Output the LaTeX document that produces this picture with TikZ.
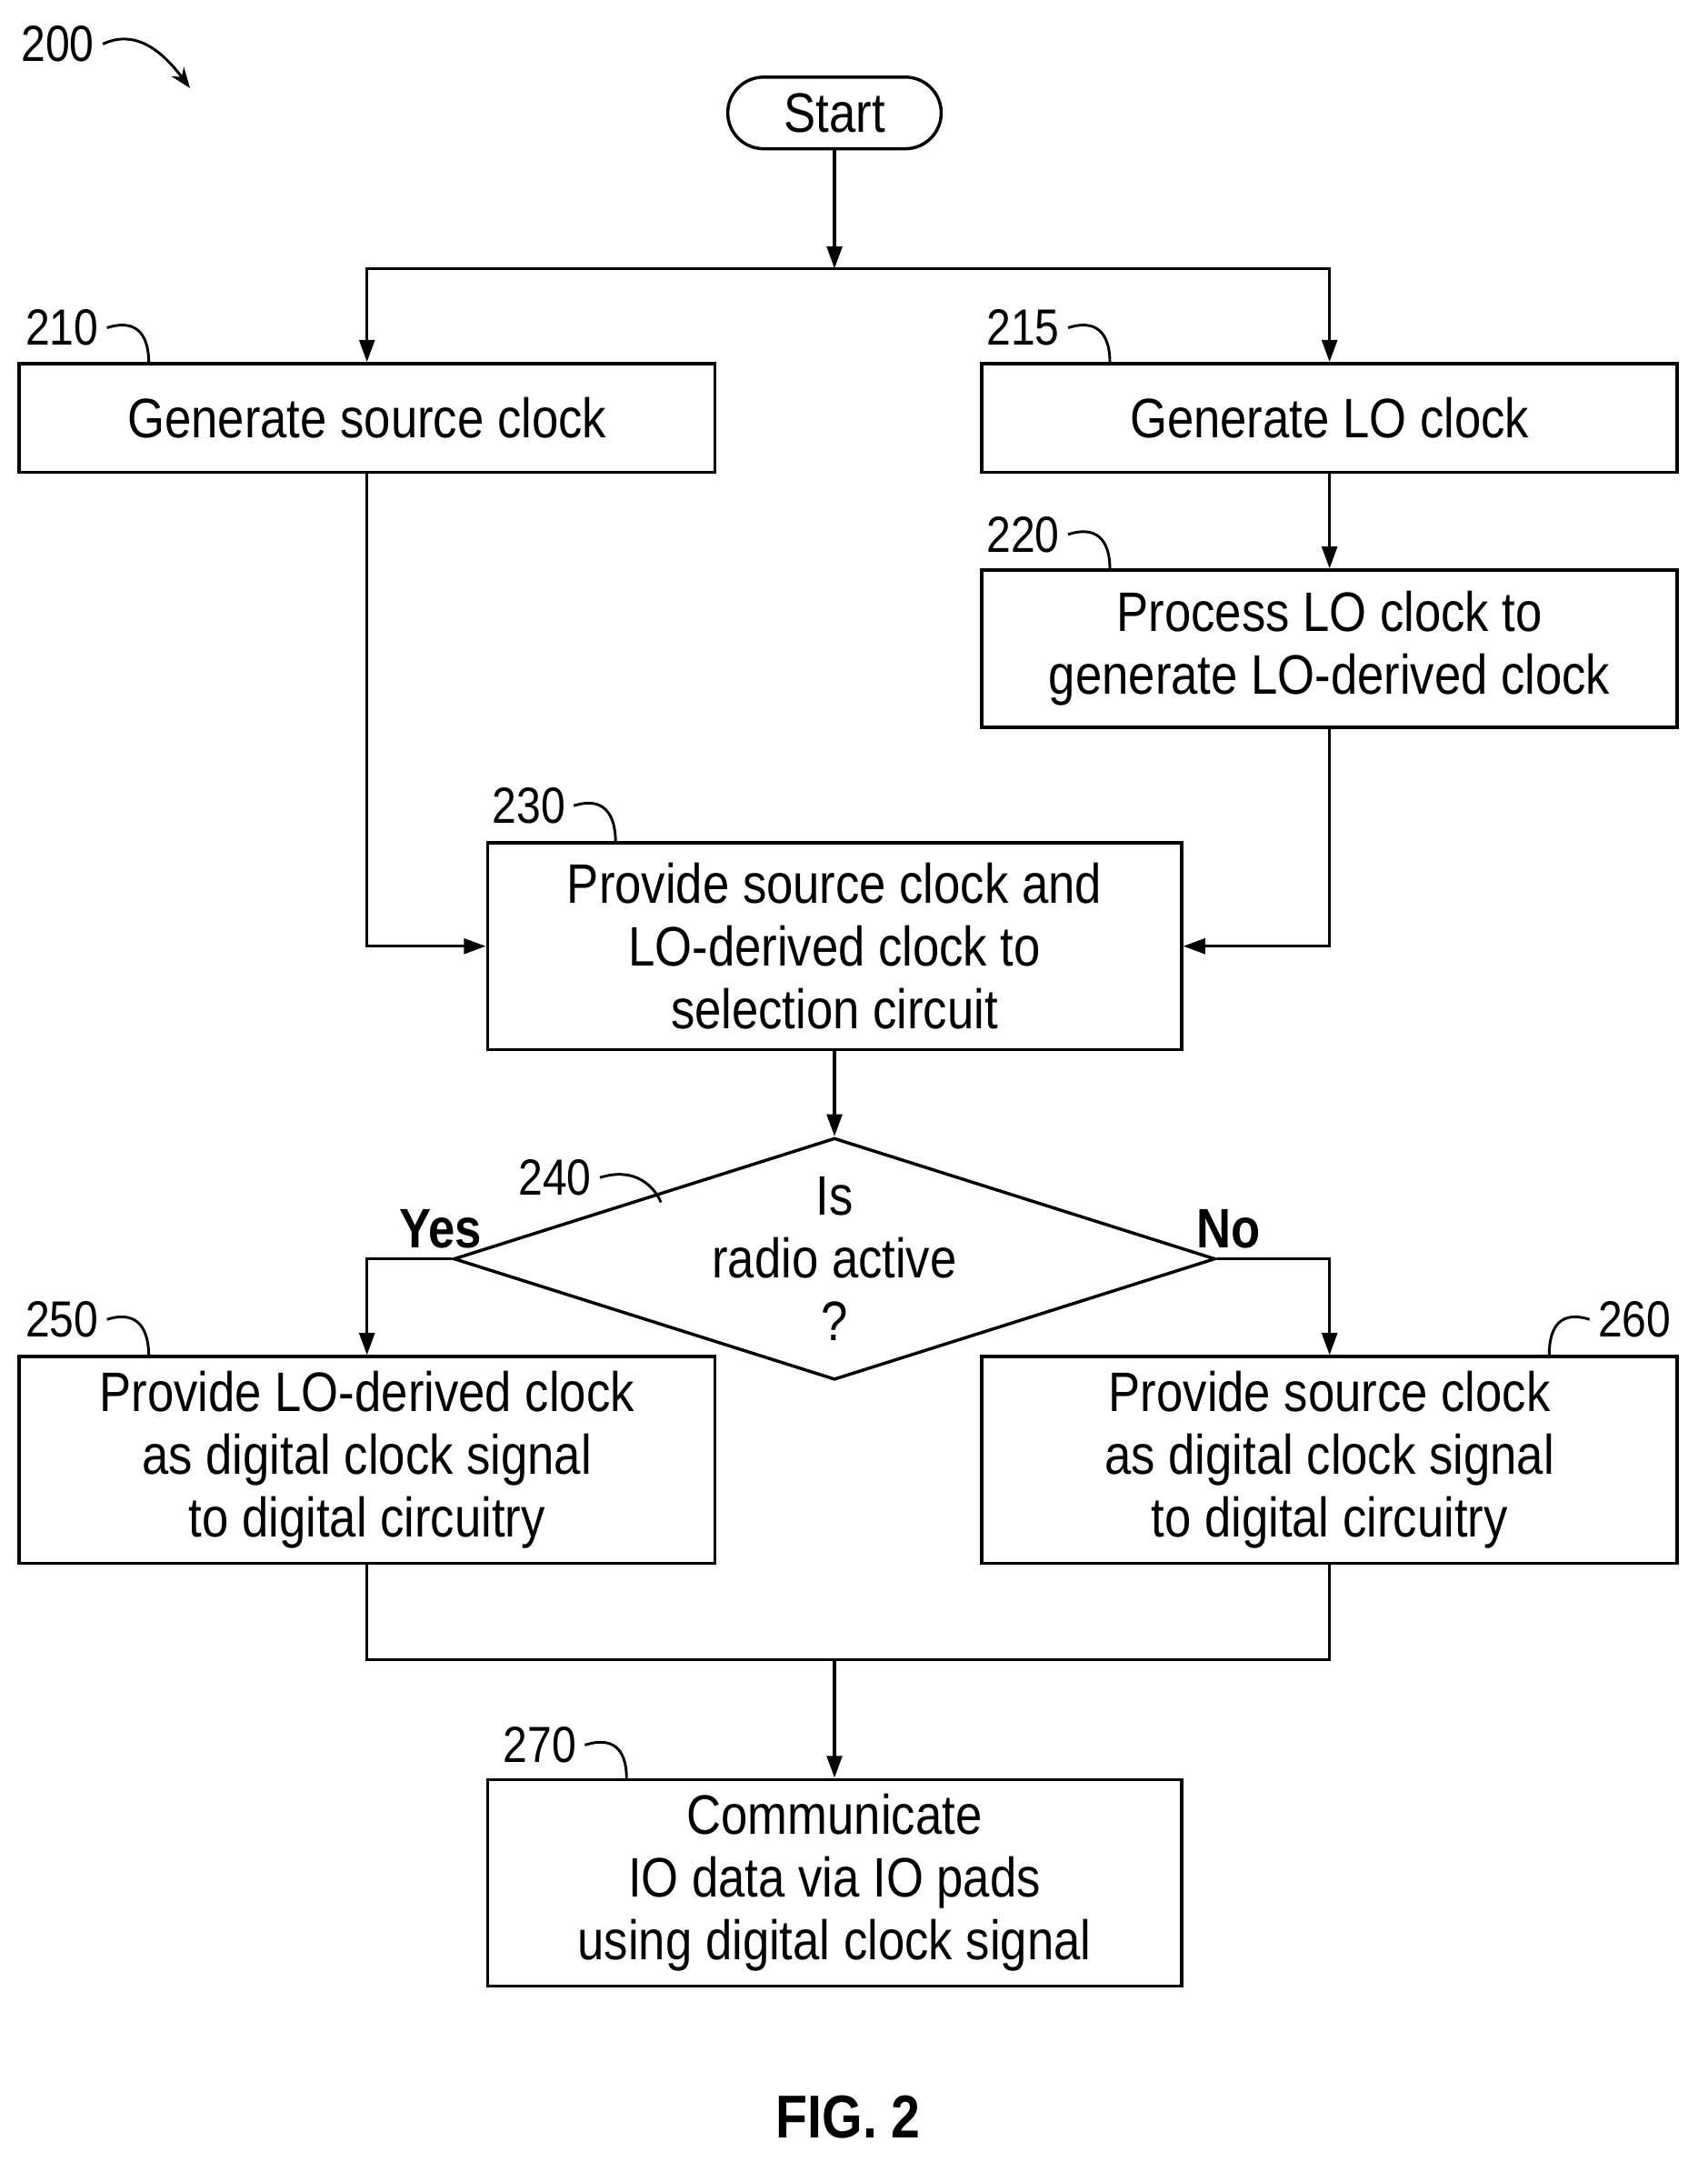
\documentclass[tikz,border=0pt]{standalone}
\usepackage{fontspec}
\setmainfont{Liberation Sans}[FakeStretch=0.86]
\usetikzlibrary{arrows.meta,shapes.geometric}
\begin{document}
\begin{tikzpicture}[x=0.02cm,y=-0.02cm,
  box/.style={draw,line width=1.3pt,inner sep=0pt,font=\fontsize{23}{26}\selectfont,align=center},
  lbl/.style={font=\fontsize{21}{24}\selectfont},
  arr/.style={line width=1.3pt,-{Triangle[length=0.32cm,width=0.22cm]}},
  ln/.style={line width=1.3pt},
  hook/.style={line width=1.1pt}]
\useasboundingbox (0,0) rectangle (1240,1577);
\node[lbl] (l200) at (42,32) {200};
\coordinate (h200) at (138,64);
\draw[hook,-{Stealth[length=0.3cm]}] (l200.east) .. controls (100,20) and (120,40) .. (h200);
\node[box,rounded corners=26*0.02cm,minimum width=155*0.02cm,minimum height=52*0.02cm] (start) at (606,82) {Start};
\node[box,minimum width=505*0.02cm,minimum height=79*0.02cm] (b210) at (266.5,303.5) {Generate source clock};
\node[box,minimum width=505*0.02cm,minimum height=79*0.02cm] (b215) at (965.5,303.5) {Generate LO clock};
\node[box,minimum width=505*0.02cm,minimum height=114*0.02cm] (b220) at (965.5,471) {Process LO clock to\\generate LO-derived clock};
\node[box,minimum width=504*0.02cm,minimum height=150*0.02cm] (b230) at (606,687) {Provide source clock and\\LO-derived clock to\\selection circuit};
\node[box,diamond,aspect=3.15,minimum width=504*0.02cm,minimum height=162*0.02cm] (d240) at (606,914) {Is\\radio active\\?};
\node[box,minimum width=505*0.02cm,minimum height=150*0.02cm] (b250) at (266.5,1060) {Provide LO-derived clock\\as digital clock signal\\to digital circuitry};
\node[box,minimum width=505*0.02cm,minimum height=150*0.02cm] (b260) at (965.5,1060) {Provide source clock\\as digital clock signal\\to digital circuitry};
\node[box,minimum width=504*0.02cm,minimum height=150*0.02cm] (b270) at (606,1367) {Communicate\\IO data via IO pads\\using digital clock signal};
\node[font=\fontsize{23}{26}\selectfont\bfseries] (yes) at (320,892) {Yes};
\node[font=\fontsize{23}{26}\selectfont\bfseries] (no) at (892,892) {No};
\node[font=\fontsize{25}{28}\selectfont\bfseries] (fig) at (616,1537) {FIG. 2};
% labels
\node[lbl] (l210) at (45,238) {210};
\node[lbl] (l215) at (743,238) {215};
\node[lbl] (l220) at (743,388) {220};
\node[lbl] (l230) at (384,585) {230};
\node[lbl] (l240) at (403,855) {240};
\node[lbl] (l250) at (45,958) {250};
\node[lbl] (l260) at (1187,958) {260};
\node[lbl] (l270) at (392,1267) {270};
\draw[hook] (l210.east) .. controls +(25,-8) and +(0,-15) .. (108,263);
\draw[hook] (l215.east) .. controls +(25,-8) and +(0,-15) .. (806,263);
\draw[hook] (l220.east) .. controls +(25,-8) and +(0,-15) .. (806,413);
\draw[hook] (l230.east) .. controls +(25,-8) and +(0,-15) .. (447,611);
\draw[hook] (l240.east) .. controls +(25,-8) and +(-5,-12) .. (480,873);
\draw[hook] (l250.east) .. controls +(25,-8) and +(0,-15) .. (108,984);
\draw[hook] (l260.west) .. controls +(-25,-8) and +(0,-15) .. (1125,984);
\draw[hook] (l270.east) .. controls +(25,-8) and +(0,-15) .. (455,1291);
% connectors
\coordinate (j1) at (606,195);
\draw[arr] (start) -- (j1);
\draw[arr] (j1) -| (b210.north);
\draw[arr] (j1) -| (b215.north);
\draw[arr] (b215) -- (b220);
\draw[arr] (b210.south) |- (b230.west);
\draw[arr] (b220.south) |- (b230.east);
\draw[arr] (b230) -- (d240);
\draw[arr] (d240.west) -| (b250.north);
\draw[arr] (d240.east) -| (b260.north);
\coordinate (j2) at (606,1205);
\draw[ln] (b250.south) |- (j2) -| (b260.south);
\draw[arr] (j2) -- (b270);
\end{tikzpicture}
\end{document}
